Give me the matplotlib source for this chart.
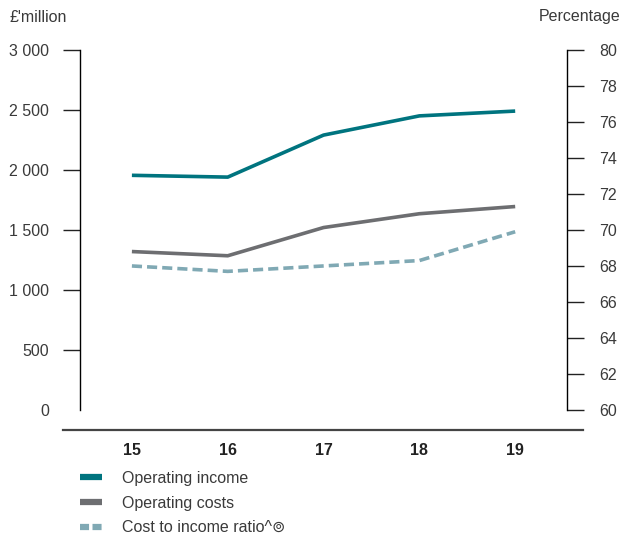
import matplotlib
matplotlib.use('Agg')
import matplotlib.pyplot as plt
from matplotlib.lines import Line2D

plt.rcParams['font.family'] = ['Liberation Sans', 'DejaVu Sans']

# Data
years = [15, 16, 17, 18, 19]
year_labels = ['15', '16', '17', '18', '19']
operating_income = [1955, 1940, 2290, 2450, 2490]
operating_costs = [1320, 1285, 1520, 1635, 1695]
cost_income_ratio = [68.0, 67.7, 68.0, 68.3, 69.9]

left_ticks = [0, 500, 1000, 1500, 2000, 2500, 3000]
left_labels = ['0', '500', '1 000', '1 500', '2 000', '2 500', '3 000']
right_ticks = [60, 62, 64, 66, 68, 70, 72, 74, 76, 78, 80]

teal = '#00747f'
grey = '#6d6e71'
light_teal = '#80a9b4'
text_col = '#3a3a3a'
fs = 11.5

fig = plt.figure(figsize=(6.24, 5.36), dpi=100)
ax = fig.add_axes([0.128, 0.235, 0.781, 0.672])
ax2 = ax.twinx()

ax.plot(years, operating_income, color=teal, lw=2.6, solid_capstyle='butt')
ax.plot(years, operating_costs, color=grey, lw=2.6, solid_capstyle='butt')
ax2.plot(years, cost_income_ratio, color=light_teal, lw=2.6, dashes=(2.8, 1.4))

ax.set_xlim(14.457, 19.543)
ax.set_ylim(0, 3000)
ax2.set_ylim(60, 80)

for a in (ax, ax2):
    for s in ('top', 'bottom'):
        a.spines[s].set_visible(False)
ax.spines['right'].set_visible(False)
ax2.spines['left'].set_visible(False)
ax.spines['left'].set_linewidth(1.0)
ax2.spines['right'].set_linewidth(1.0)

ax.set_yticks(left_ticks)
ax.set_yticklabels(left_labels)
ax.tick_params(axis='y', length=12.2, width=1.0, pad=10, labelsize=fs,
               labelcolor=text_col, color='#222222')
ax.yaxis.get_major_ticks()[0].tick1line.set_visible(False)

ax2.set_yticks(right_ticks)
ax2.tick_params(axis='y', length=12.2, width=1.0, pad=11, labelsize=fs,
                labelcolor=text_col, color='#222222')

ax.set_xticks(years)
ax.set_xticklabels(year_labels, fontweight='bold')
ax.tick_params(axis='x', length=0, pad=24, labelsize=fs, labelcolor='#222222')
ax2.tick_params(axis='x', length=0)

# horizontal rule under the plot
rule = Line2D([63 / 624, 583 / 624], [1 - 430 / 536, 1 - 430 / 536],
              transform=fig.transFigure, color='#444444', lw=1.6)
fig.add_artist(rule)

fig.text(10 / 624, 1 - 17 / 536, "£'million", fontsize=fs, color=text_col,
         ha='left', va='center')
fig.text(620 / 624, 1 - 17 / 536, 'Percentage', fontsize=fs, color=text_col,
         ha='right', va='center')

handles = [
    Line2D([], [], color=teal, lw=4.5, solid_capstyle='butt'),
    Line2D([], [], color=grey, lw=4.5, solid_capstyle='butt'),
    Line2D([], [], color=light_teal, lw=4.5, dashes=(1.45, 0.55)),
]
labels = ['Operating income', 'Operating costs', 'Cost to income ratio^\u229a']
fig.legend(handles, labels, loc='upper left', bbox_to_anchor=(80 / 624, 1 - 471 / 536),
           frameon=False, borderpad=0, borderaxespad=0, handlelength=1.4,
           handletextpad=1.2, labelspacing=0.6, fontsize=fs, labelcolor=text_col)

fig.savefig('out.png', dpi=100)
